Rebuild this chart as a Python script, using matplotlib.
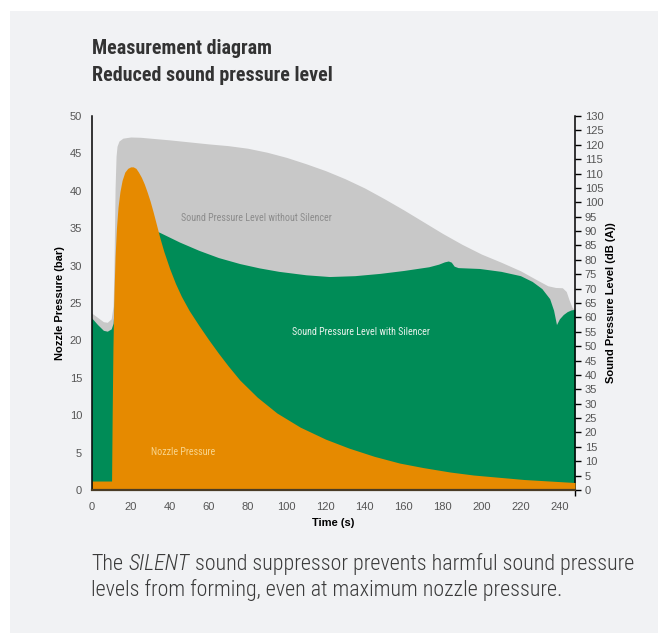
import matplotlib
matplotlib.use('Agg')
import matplotlib.pyplot as plt
from matplotlib.patches import Rectangle

# sound pressure level without silencer, dB(A)
t_without = [0, 3, 6, 8, 10, 11, 11.5, 12, 12.5, 13, 14, 16, 20, 25, 30, 40, 50, 60, 70,
             80, 90, 100, 110, 120, 130, 140, 150, 160, 170, 180, 190, 200, 210, 220, 228,
             234, 238, 241.5, 243.5, 245, 246.5, 248]
db_without = [61.5, 60, 58.5, 58.3, 59.5, 64, 80, 105, 116, 119.5, 121.3, 122.3, 122.7,
              122.6, 122.3, 121.7, 121.0, 120.3, 119.7, 118.8, 117.4, 115.6, 113.4, 111.0,
              108.2, 105.0, 101.3, 97.4, 93.3, 89.2, 85.4, 82.0, 79.2, 76.2, 73.2, 71.0,
              70.4, 70.3, 69, 66, 63.5, 62.6]

# sound pressure level with silencer, dB(A)
t_with = [0, 3, 6, 8, 10, 11, 11.5, 12, 12.5, 13, 14, 16, 19, 23, 28, 35, 45, 55, 65, 76,
          86, 96, 110, 122, 135, 148, 160, 173, 178, 181, 183, 184.5, 186, 188, 199, 210,
          220, 226, 231, 235, 237, 238.5, 240, 242, 244, 246, 248]
db_with = [59.8, 57.5, 55.5, 55.2, 56, 58, 63, 72, 80, 84.5, 88, 90.5, 92, 92.3, 91.5, 89.5,
           86.2, 83.3, 80.8, 78.7, 77.2, 76.0, 74.8, 74.2, 74.5, 75.3, 76.3, 77.6, 78.5,
           79.3, 79.6, 79.2, 77.8, 77.3, 77, 76, 74.5, 72.5, 70, 66.5, 62.5, 57.5, 59.5,
           61, 62, 62.6, 62.8]

# nozzle pressure, bar
t_nozzle = [0, 10.2, 10.5, 10.9, 11.4, 12, 12.7, 13.5, 14.5, 15.6, 17, 18.5, 20, 21.3, 22.7,
            24, 25.5, 27, 28.5, 30, 31.5, 33, 35, 37, 40, 43, 46, 50, 55, 60, 65, 70, 76, 85,
            95, 107, 120, 132, 145, 158, 170, 184, 196, 209, 222, 235, 248]
bar_nozzle = [1.2, 1.2, 10, 19, 26, 31.2, 35.0, 37.8, 39.9, 41.4, 42.5, 43.0, 43.2, 43.2,
              43.0, 42.5, 41.8, 40.9, 39.8, 38.6, 37.2, 35.7, 33.7, 31.9, 29.6, 27.6, 25.9,
              24.0, 22.0, 20.1, 18.3, 16.6, 14.7, 12.4, 10.3, 8.4, 6.8, 5.6, 4.5, 3.6, 3.0,
              2.4, 2.0, 1.7, 1.4, 1.2, 1.0]

x_ticks = list(range(0, 241, 20))
bar_ticks = list(range(0, 51, 5))
db_ticks = list(range(0, 131, 5))

narrow = ['Roboto Condensed', 'Liberation Sans Narrow', 'Roboto', 'DejaVu Sans']
plain = ['Liberation Sans', 'DejaVu Sans']
gray = '#c8c8c8'
green = '#008c57'
orange = '#e68a00'
tick_col = '#555555'

fig = plt.figure(figsize=(6.59, 6.34), dpi=100, facecolor='white')
fig.add_artist(Rectangle((10 / 659, 1 / 634), 648 / 659, 622 / 634,
                         transform=fig.transFigure, facecolor='#f1f2f4', lw=0, zorder=0))

ax = fig.add_axes([91.7 / 659, 1 - 490 / 634, (575 - 91.7) / 659, 374 / 634])
ax2 = ax.twinx()
ax.set_zorder(2)
ax2.set_zorder(1)
ax.patch.set_visible(False)
ax2.patch.set_visible(False)

ax2.fill_between(t_without, db_without, color=gray, lw=0)
ax2.fill_between(t_with, db_with, color=green, lw=0)
ax.fill_between(t_nozzle, bar_nozzle, color=orange, lw=0)

ax.set_xlim(0, 248)
ax.set_ylim(0, 50)
ax2.set_ylim(0, 130)

ax.set_xticks(x_ticks)
ax.set_yticks(bar_ticks)
ax2.set_yticks(db_ticks)
ax.set_xticks([0, 248], minor=True)
for a in (ax, ax2):
    a.spines['top'].set_visible(False)
    a.spines['left'].set_visible(a is ax)
    a.spines['right'].set_visible(a is ax2)
    a.spines['bottom'].set_visible(a is ax)
ax.spines['left'].set_linewidth(1.1)
ax2.spines['right'].set_linewidth(1.1)
ax.spines['bottom'].set_color('#4a3c26')
ax.spines['bottom'].set_linewidth(1.6)

ax.tick_params(axis='x', which='major', length=0, pad=9, labelsize=8, labelcolor=tick_col)
ax.tick_params(axis='x', which='minor', length=4, width=1, color='black')
ax.tick_params(axis='y', length=0, pad=7, labelsize=8, labelcolor=tick_col)
ax2.tick_params(axis='y', length=4, width=1, pad=3, labelsize=8, labelcolor=tick_col)
for lab in ax.get_xticklabels() + ax.get_yticklabels() + ax2.get_yticklabels():
    lab.set_family(plain)

ax.set_xlabel('Time (s)', fontsize=8, weight='bold', family=plain, labelpad=4)
ax.set_ylabel('Nozzle Pressure (bar)', fontsize=8, weight='bold', family=plain, labelpad=3)
ax2.set_ylabel('Sound Pressure Level (dB (A))', fontsize=8, weight='bold', family=plain,
               labelpad=2)

ax2.text(84.6, 94.4, 'Sound Pressure Level without Silencer', ha='center', va='center',
         fontsize=7.2, color='#8c8c8c', family=narrow)
ax2.text(138.4, 54.9, 'Sound Pressure Level with Silencer', ha='center', va='center',
         fontsize=7.2, color='#e8f2ec', family=narrow)
ax.text(46.8, 5.04, 'Nozzle Pressure', ha='center', va='center',
        fontsize=7.2, color='#f8d48c', family=narrow)

title_kw = dict(fontsize=14.4, weight='bold', color='#333333', family=narrow, va='baseline')
fig.text(92 / 659, 1 - 54 / 634, 'Measurement diagram', **title_kw)
fig.text(92 / 659, 1 - 81 / 634, 'Reduced sound pressure level', **title_kw)

cap_kw = dict(fontsize=15.8, color='#3a3a3a', family=narrow, weight='light')
c1 = fig.text(91 / 659, 1 - 570 / 634, 'The', va='baseline', **cap_kw)
c2 = ax.annotate('SILENT', xy=(1, 0), xycoords=c1, xytext=(3.8, 0),
                 textcoords='offset points', va='bottom', style='italic', **cap_kw)
ax.annotate('sound suppressor prevents harmful sound pressure', xy=(1, 0), xycoords=c2,
            xytext=(3.8, 0), textcoords='offset points', va='bottom', **cap_kw)
fig.text(91 / 659, 1 - 596 / 634, 'levels from forming, even at maximum nozzle pressure.',
         va='baseline', **cap_kw)

fig.savefig('out.png', dpi=100, facecolor='white')
